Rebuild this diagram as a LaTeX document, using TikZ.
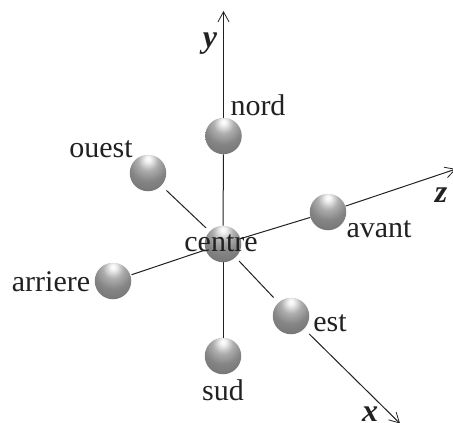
\documentclass[tikz,border=0pt]{standalone}
\usepackage{fontspec}
\setmainfont{Liberation Serif}
\usetikzlibrary{arrows.meta}
\pgfdeclareradialshading{sphere}{\pgfpoint{0bp}{20bp}}{%
  color(0bp)=(white);
  color(4bp)=(white!95!black);
  color(14bp)=(black!32);
  color(26bp)=(black!48);
  color(45bp)=(black!57);
  color(70bp)=(black!66);
  color(100bp)=(black!70)}
\definecolor{ink}{gray}{0.13}
\tikzset{
  ball/.style={circle,minimum size=36.5pt,inner sep=0pt,shading=sphere},
  lab/.style={anchor=base,font=\fontsize{30}{30}\selectfont,text=ink,inner sep=0pt},
  axlab/.style={anchor=base,font=\fontsize{32}{32}\selectfont\bfseries\itshape,text=ink,inner sep=0pt},
  axline/.style={draw=ink,line width=1pt},
  axarrow/.style={axline,-{Straight Barb[length=10pt,width=11pt,line width=0.8pt]}}
}
\begin{document}
\begin{tikzpicture}[x=1pt,y=-1pt]
\useasboundingbox (0,0) rectangle (453,423);
\node[ball] (c) at (223,244) {};
\node[ball] (n) at (223.5,136) {};
\node[ball] (o) at (148,173) {};
\node[ball] (a) at (328,212) {};
\node[ball] (e) at (291,316) {};
\node[ball] (r) at (113,281) {};
\node[ball] (s) at (223,356) {};
\coordinate (ytip) at (223.5,11);
\coordinate (ztip) at (456,169);
\coordinate (xtip) at (400,423.5);
\draw[axline] (c) -- (n);
\draw[axarrow] (n) -- (ytip);
\draw[axline] (c) -- (s);
\draw[axline,shorten >=7pt,shorten <=5pt] (c) -- (o);
\draw[axline,shorten >=7pt,shorten <=5pt] (c) -- (e);
\draw[axarrow,shorten <=7pt] (e) -- (xtip);
\draw[axline,shorten >=1pt,shorten <=2pt] (c) -- (r);
\draw[axline] (c) -- (a);
\draw[axarrow] (a) -- (ztip);
\node[lab] (ln) at (258,115) {nord};
\node[lab] (lo) at (101,157) {ouest};
\node[lab] (la) at (379,237) {avant};
\node[lab] (le) at (330,331) {est};
\node[lab] (lc) at (221,251) {centre};
\node[lab] (lr) at (51,291) {arriere};
\node[lab] (ls) at (223,400) {sud};
\node[axlab] (ly) at (210,47) {y};
\node[axlab] (lz) at (441,202) {z};
\node[axlab] (lx) at (370,421) {x};
\end{tikzpicture}
\end{document}
